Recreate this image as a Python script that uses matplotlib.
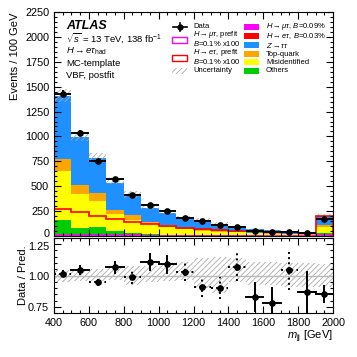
import matplotlib
matplotlib.use("Agg")
import matplotlib.pyplot as plt
import matplotlib.transforms as mtransforms
import numpy as np
from matplotlib.patches import Rectangle
from matplotlib.lines import Line2D
from matplotlib.ticker import MultipleLocator, FormatStrFormatter

plt.rcParams['font.family'] = 'Liberation Sans'
plt.rcParams['mathtext.fontset'] = 'custom'
plt.rcParams['mathtext.rm'] = 'Liberation Sans'
plt.rcParams['mathtext.it'] = 'Liberation Sans:italic'
plt.rcParams['mathtext.bf'] = 'Liberation Sans:bold'
plt.rcParams['hatch.linewidth'] = 0.6

# data (bins of 100 GeV, last bin incl. overflow)
edges = np.arange(400, 2001, 100)
data = [1430, 1035, 750, 572, 410, 316, 254, 183, 146, 111, 90, 55, 44, 45, 27, 170]
others = [165, 82, 91, 47, 34, 22, 14, 13, 12, 10, 8, 6, 5, 5, 4, 34]
misid = [484, 343, 262, 172, 124, 100, 77, 58, 38, 30, 30, 22, 17, 15, 11, 61]
topq = [124, 87, 74, 46, 50, 18, 17, 11, 10, 8, 6, 6, 5, 4, 3, 13]
ztt = [636, 479, 360, 271, 208, 145, 125, 95, 101, 75, 40, 32, 29, 19, 13, 91]
het_post = [0.8, 0.7, 0.6, 0.5, 0.4, 0.4, 0.3, 0.3, 0.2, 0.2, 0.2, 0.2, 0.1, 0.1, 0.1, 0.6]
hmt_post = [0.4, 0.3, 0.3, 0.2, 0.2, 0.2, 0.1, 0.1, 0.1, 0.1, 0.1, 0.1, 0.1, 0.1, 0.1, 0.3]
het_prefit = [272, 237, 197, 166, 138, 118, 103, 82, 70, 60, 52, 48, 42, 36, 28, 202]
hmt_prefit = [12, 10, 8, 7, 6, 5, 4, 3, 3, 3, 2, 2, 2, 2, 1, 8]
unc_up = [1.046, 1.055, 1.055, 1.06, 1.073, 1.08, 1.09, 1.11, 1.14, 1.15, 1.14, 1.11, 1.11, 1.10, 1.10, 1.09]
unc_dn = [0.952, 0.957, 0.96, 0.965, 0.925, 0.95, 0.957, 0.965, 0.90, 0.86, 0.95, 0.925, 0.925, 0.91, 0.91, 0.91]
dotted = [1, 0, 1, 0, 1, 0, 0, 1, 1, 1, 1, 0, 0, 1, 0, 0]

components = [
    (others, '#00cc00', 'Others'),
    (misid, '#ffff00', 'Misidentified'),
    (topq, '#ffa500', 'Top-quark'),
    (ztt, '#1e90ff', r'$Z\to\tau\tau$'),
    (het_post, '#ff0000', r'$H\to e\tau$, $B$=0.03%'),
    (hmt_post, '#ff00ff', r'$H\to\mu\tau$, $B$=0.09%'),
]

W = 357
fig = plt.figure(figsize=(3.57, 3.57), dpi=100)
ax = fig.add_axes([54/W, 1-236/W, 279/W, 224/W])
rax = fig.add_axes([54/W, 1-313/W, 279/W, 75/W])

left = edges[:-1]
width = 100
bottom = np.zeros(16)
for vals, col, lab in components:
    ax.bar(left, vals, width=width, bottom=bottom, align='edge', color=col, linewidth=0)
    bottom = bottom + np.array(vals)
pred = bottom
data = np.array(data, dtype=float)
err = np.sqrt(data)

# uncertainty band
lo = pred*np.array(unc_dn)
hi = pred*np.array(unc_up)
ax.bar(left, hi-lo, width=width, bottom=lo, align='edge', color='none',
       edgecolor='#aaaaaa', hatch='//////', linewidth=0)

ax.stairs(hmt_prefit, edges, color='#ff00ff', lw=1.2)
ax.stairs(het_prefit, edges, color='#ff0000', lw=1.2)

centers = left + 50
ax.errorbar(centers, data, xerr=50, yerr=err, fmt='o', color='black', ms=3.8,
            elinewidth=1.4, capsize=0)

ax.set_xlim(400, 2000)
ax.set_ylim(0, 2250)
ax.yaxis.set_major_locator(MultipleLocator(250))
ax.yaxis.set_minor_locator(MultipleLocator(50))
ax.xaxis.set_major_locator(MultipleLocator(200))
ax.xaxis.set_minor_locator(MultipleLocator(50))
ax.set_xticklabels([])
for a in (ax, rax):
    a.tick_params(which='both', direction='in', top=True, right=True, labelsize=7.8, width=0.8)
    a.tick_params(which='major', length=5)
    a.tick_params(which='minor', length=2.5)
    for s in a.spines.values():
        s.set_linewidth(0.8)

# ratio panel
rax.bar(left, np.array(unc_up)-np.array(unc_dn), width=width, bottom=unc_dn, align='edge',
        color='none', edgecolor='#aaaaaa', hatch='//////', linewidth=0)
rax.axhline(1.0, color='#bbbbbb', lw=1)
ratio = data/pred
rerr = err/pred
for i in range(16):
    ls = ':' if dotted[i] else '-'
    rax.plot([left[i], left[i]+100], [ratio[i], ratio[i]], color='black', ls=ls, lw=1.4)
    rax.plot([centers[i], centers[i]], [ratio[i]-rerr[i], ratio[i]+rerr[i]], color='black', ls=ls, lw=1.4)
rax.plot(centers, ratio, 'o', color='black', ms=3.8)
rax.set_xlim(400, 2000)
rax.set_ylim(0.70, 1.30)
rax.yaxis.set_major_locator(MultipleLocator(0.25))
rax.yaxis.set_minor_locator(MultipleLocator(0.05))
rax.yaxis.set_major_formatter(FormatStrFormatter('%.2f'))
rax.xaxis.set_major_locator(MultipleLocator(200))
rax.xaxis.set_minor_locator(MultipleLocator(50))

# labels
fig.text(15/W, 1-13/W, 'Events / 100 GeV', rotation=90, ha='center', va='top', fontsize=8)
fig.text(23/W, 1-275/W, 'Data / Pred.', rotation=90, ha='center', va='center', fontsize=8)
fig.text(333/W, 1-337/W, r'$m_{\rm jj}$ [GeV]', ha='right', va='center', fontsize=8)

fig.text(66/W, 1-26/W, 'ATLAS', fontsize=9, fontweight='bold', style='italic', va='center')
fig.text(66/W, 1-38/W, r'$\sqrt{s}$ = 13 TeV, 138 fb$^{-1}$', fontsize=6.8, va='center')
fig.text(66/W, 1-51/W, r'$H\to e\tau_{\rm had}$', fontsize=6.8, va='center')
fig.text(66/W, 1-63/W, 'MC-template', fontsize=6.8, va='center')
fig.text(66/W, 1-75/W, 'VBF, postfit', fontsize=6.8, va='center')

# legend, column 1
fs = 5.5
def ftxt(x, y, s):
    fig.text(x/W, 1-y/W, s, fontsize=fs, va='center')
def fbox(x, y, **kw):
    fig.add_artist(Rectangle((x/W, 1-(y+3)/W), 15/W, 6/W, transform=fig.transFigure, **kw))

fig.add_artist(Line2D([173/W, 187/W], [1-27/W, 1-27/W], color='black', lw=1.2, transform=fig.transFigure))
fig.add_artist(Line2D([180/W, 180/W], [1-23/W, 1-31/W], color='black', lw=1.2, transform=fig.transFigure))
fig.add_artist(Line2D([180/W], [1-27/W], marker='o', ms=3.5, color='black', transform=fig.transFigure))
ftxt(193, 27, 'Data')
fbox(172, 40, facecolor='white', edgecolor='#ff00ff', lw=1)
ftxt(193, 35, r'$H\to\mu\tau$, prefit')
ftxt(193, 44, r'$B$=0.1% x100')
fbox(172, 58, facecolor='white', edgecolor='#ff0000', lw=1)
ftxt(193, 53, r'$H\to e\tau$, prefit')
ftxt(193, 62, r'$B$=0.1% x100')
fbox(172, 71, facecolor='none', edgecolor='#aaaaaa', hatch='//////', lw=0)
ftxt(193, 71, 'Uncertainty')

# legend, column 2
col2 = components[::-1]
rows = [27, 36, 45, 54, 62, 71]
for (vals, col, lab), y in zip(col2, rows):
    fbox(244, y, facecolor=col, edgecolor='none')
    ftxt(266, y, lab)

# nudge the "0" and "1.25" labels apart a little so they don't collide
fig.canvas.draw()
up = mtransforms.ScaledTranslation(0, 2/72, fig.dpi_scale_trans)
dn = mtransforms.ScaledTranslation(0, -1.5/72, fig.dpi_scale_trans)
for t in ax.yaxis.get_major_ticks():
    if abs(t.get_loc()) < 1e-9:
        t.label1.set_transform(t.label1.get_transform() + up)
for t in rax.yaxis.get_major_ticks():
    if abs(t.get_loc() - 1.25) < 1e-9:
        t.label1.set_transform(t.label1.get_transform() + dn)

fig.savefig('out.png', dpi=100)
